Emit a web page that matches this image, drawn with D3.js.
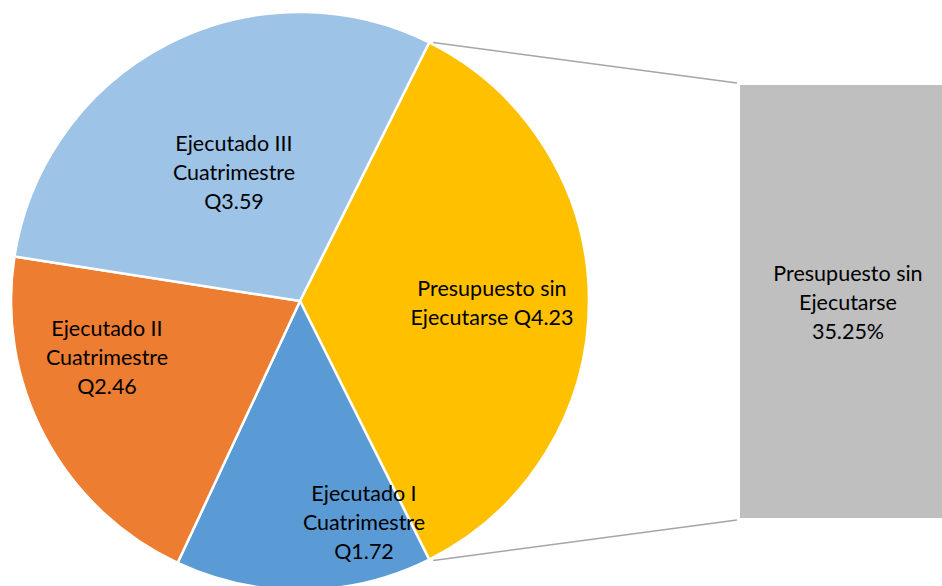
<!DOCTYPE html>
<html>
<head>
<meta charset="utf-8">
<script src="https://cdn.jsdelivr.net/npm/d3@7"></script>
<style>
  html, body { margin: 0; padding: 0; background: #ffffff; }
  svg { display: block; }
  text { font-family: Lato, "Open Sans", sans-serif; fill: #000; }
</style>
</head>
<body>
<svg id="chart" width="942" height="586"></svg>
<script>
// Budget execution by four-month period (quetzales, millions)
const categories = [
  "Presupuesto sin Ejecutarse",
  "Ejecutado I Cuatrimestre",
  "Ejecutado II Cuatrimestre",
  "Ejecutado III Cuatrimestre"
];
const values = [4.23, 1.72, 2.46, 3.59];
const labelLines = [
  ["Presupuesto sin", "Ejecutarse Q4.23"],
  ["Ejecutado I", "Cuatrimestre", "Q1.72"],
  ["Ejecutado II", "Cuatrimestre", "Q2.46"],
  ["Ejecutado III", "Cuatrimestre", "Q3.59"]
];
const colors = ["#FFC000", "#5B9BD5", "#ED7D31", "#9DC3E6"];
const barLabelLines = ["Presupuesto sin", "Ejecutarse"];

// Layout
const W = 942, H = 586;
const cx = 300, cy = 301, R = 289;
const labelCenters = [[492, 303], [364, 522], [107, 357], [234, 172]];
const lineH = 29;
const fontSize = 21.5;

const svg = d3.select("#chart");
const total = d3.sum(values);
const share = values[0] / total;
const span = share * 2 * Math.PI;

// Pie starting so that the first slice is centred at 3 o'clock
const pie = d3.pie().sort(null).value(d => d)
  .startAngle(Math.PI / 2 - span / 2)
  .endAngle(Math.PI / 2 - span / 2 + 2 * Math.PI);
const arcs = pie(values);
const arc = d3.arc().innerRadius(0).outerRadius(R);

const g = svg.append("g").attr("transform", `translate(${cx},${cy})`);
g.selectAll("path").data(arcs).join("path")
  .attr("d", arc)
  .attr("fill", (d, i) => colors[i])
  .attr("stroke", "#fff")
  .attr("stroke-width", 2.5)
  .attr("stroke-linejoin", "round");

// Slice labels
arcs.forEach((a, i) => {
  const [lx, ly] = labelCenters[i];
  const lines = labelLines[i];
  const t = svg.append("text")
    .attr("text-anchor", "middle")
    .attr("font-size", fontSize);
  lines.forEach((s, k) => {
    t.append("tspan")
      .attr("x", lx)
      .attr("y", ly + (k - (lines.length - 1) / 2) * lineH)
      .attr("dy", "0.35em")
      .text(s);
  });
});

// Secondary bar showing the unexecuted share
const barX = 740, barW = 210;
const y = d3.scaleLinear().domain([0, share * 100]).range([518, 85]);
const barTop = y(share * 100), barBottom = y(0);

// Connector lines from the slice edges to the bar corners
const a0 = arcs[0];
const edge = ang => [cx + R * Math.sin(ang), cy - R * Math.cos(ang)];
const [sx0, sy0] = edge(a0.startAngle);
const [sx1, sy1] = edge(a0.endAngle);
svg.append("line")
  .attr("x1", sx0 + 4).attr("y1", sy0)
  .attr("x2", barX - 3).attr("y2", barTop - 2)
  .attr("stroke", "#A5A5A5").attr("stroke-width", 1.6);
svg.append("line")
  .attr("x1", sx1 + 4).attr("y1", sy1 + 1)
  .attr("x2", barX - 3).attr("y2", barBottom + 2)
  .attr("stroke", "#A5A5A5").attr("stroke-width", 1.6);

svg.append("rect")
  .attr("x", barX).attr("y", barTop)
  .attr("width", barW).attr("height", barBottom - barTop)
  .attr("fill", "#BFBFBF");

const bt = svg.append("text")
  .attr("text-anchor", "middle")
  .attr("font-size", fontSize);
const barLines = barLabelLines.concat([d3.format(".2f")(share * 100) + "%"]);
barLines.forEach((s, k) => {
  bt.append("tspan")
    .attr("x", 848)
    .attr("y", 302 + (k - 1) * lineH)
    .attr("dy", "0.35em")
    .text(s);
});
</script>
</body>
</html>
